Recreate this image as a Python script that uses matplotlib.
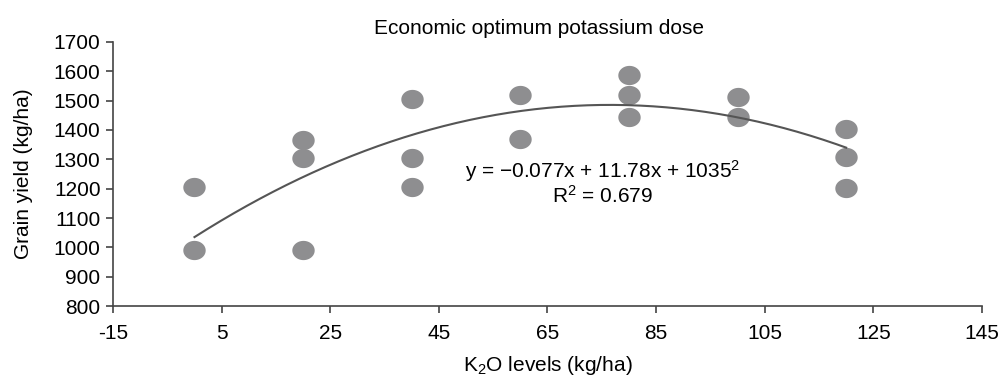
import numpy as np
import matplotlib
matplotlib.use("Agg")
import matplotlib.pyplot as plt
from matplotlib.path import Path

# data
k2o_levels = [0, 0, 20, 20, 20, 40, 40, 40, 60, 60, 80, 80, 80, 100, 100, 120, 120, 120]
grain_yield = [1205, 990, 1365, 1305, 990, 1505, 1305, 1205, 1520, 1370,
               1587, 1518, 1445, 1513, 1445, 1405, 1308, 1202]
fit_coef = [-0.077, 11.78, 1035]  # quadratic trend line
fit_range = [0, 120]
x_ticks = [-15, 5, 25, 45, 65, 85, 105, 125, 145]
y_ticks = [800, 900, 1000, 1100, 1200, 1300, 1400, 1500, 1600, 1700]

font = "Liberation Sans"
dot_color = "#8e8e90"
line_color = "#555555"
fs = 15

plt.rcParams['font.family'] = [font, 'DejaVu Sans']
plt.rcParams['mathtext.fontset'] = 'custom'
plt.rcParams['mathtext.rm'] = font
plt.rcParams['mathtext.it'] = font
plt.rcParams['axes.unicode_minus'] = False

fig = plt.figure(figsize=(10.02, 3.8), dpi=100)
ax = fig.add_axes([0.1128, 0.1947, 0.8672, 0.6948])

# slightly wide ellipse marker
t = np.linspace(0, 2 * np.pi, 60)
ellipse = Path(np.column_stack([np.cos(t), 0.86 * np.sin(t)]), closed=True)

ax.scatter(k2o_levels, grain_yield, marker=ellipse, s=260, color=dot_color,
           linewidths=0, zorder=2)

xf = np.linspace(fit_range[0], fit_range[1], 200)
ax.plot(xf, np.polyval(fit_coef, xf), color=line_color, lw=1.5, zorder=3)

ax.set_xlim(-15, 145)
ax.set_ylim(800, 1700)
ax.set_xticks(x_ticks)
ax.set_yticks(y_ticks)
ax.tick_params(labelsize=fs, length=5, width=1.2, color="#444444", direction="out")
ax.tick_params(axis="x", pad=8)
ax.tick_params(axis="y", pad=4)
for s in ["top", "right"]:
    ax.spines[s].set_visible(False)
for s in ["left", "bottom"]:
    ax.spines[s].set_color("#444444")
    ax.spines[s].set_linewidth(1.2)

ax.set_title("Economic optimum potassium dose", fontsize=fs, pad=6, x=0.49)
ax.set_xlabel("K$_2$O levels (kg/ha)", fontsize=fs, labelpad=8)
ax.set_ylabel("Grain yield (kg/ha)", fontsize=fs, labelpad=15)

ax.text(75.2, 1260, "y = \u22120.077x + 11.78x + 1035$^2$", fontsize=fs,
        ha="center", va="center")
ax.text(75.2, 1176, "R$^2$ = 0.679", fontsize=fs, ha="center", va="center")

fig.savefig("out.png", dpi=100, facecolor="white")
